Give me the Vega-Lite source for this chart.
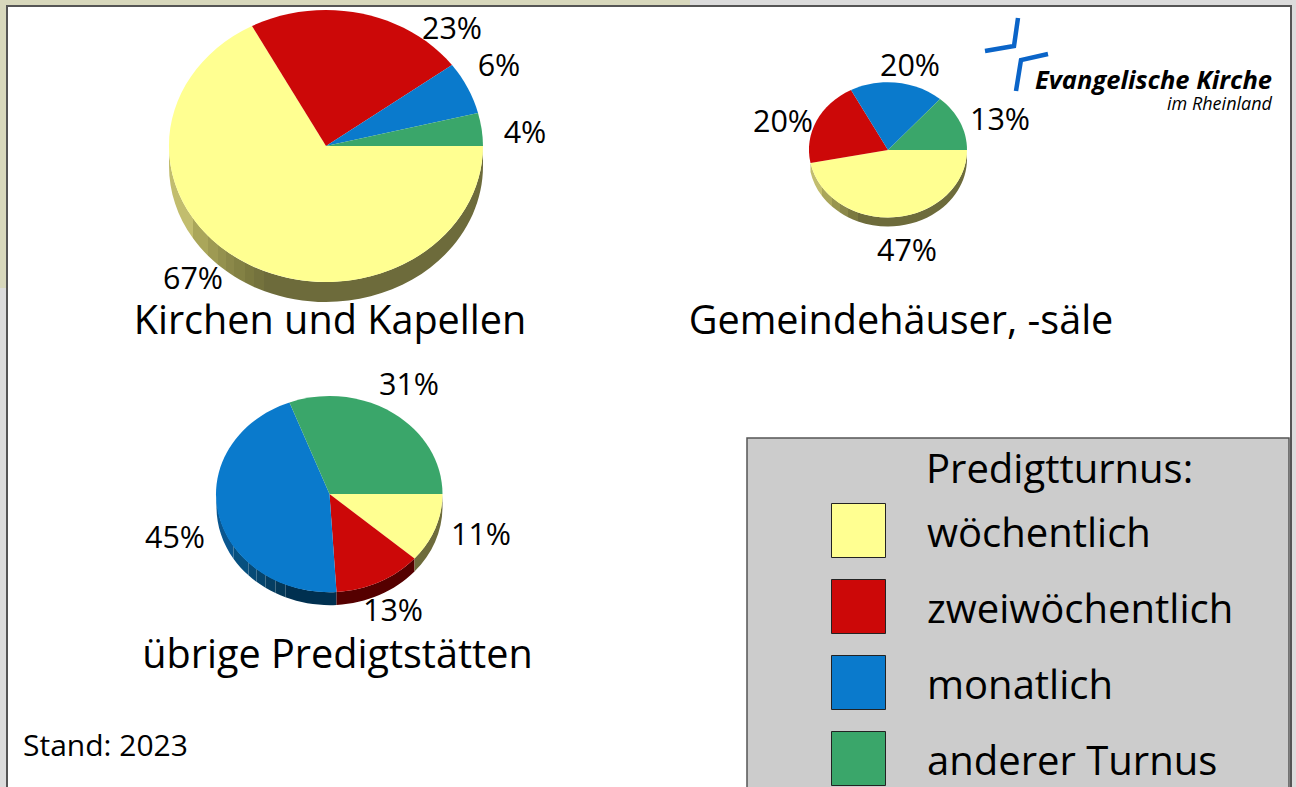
{
"$schema":"https://vega.github.io/schema/vega-lite/v6.json",
"width":1296,"height":787,"padding":0,
"autosize":{"type":"fit","contains":"padding"},
"background":"#dcdcdc",
"view":{"stroke":null},
"config":{"text":{"font":"Open Sans","color":"#000000"}},
"datasets":{
"slices":[
{"pie":"Kirchen und Kapellen","category":"wöchentlich","share":67,"slice":"K-w","cx":326,"cy":146},
{"pie":"Kirchen und Kapellen","category":"zweiwöchentlich","share":23,"slice":"K-z","cx":326,"cy":146},
{"pie":"Kirchen und Kapellen","category":"monatlich","share":6,"slice":"K-m","cx":326,"cy":146},
{"pie":"Kirchen und Kapellen","category":"anderer Turnus","share":4,"slice":"K-a","cx":326,"cy":146},
{"pie":"Gemeindehäuser, -säle","category":"wöchentlich","share":47,"slice":"G-w","cx":888,"cy":150},
{"pie":"Gemeindehäuser, -säle","category":"zweiwöchentlich","share":20,"slice":"G-z","cx":888,"cy":150},
{"pie":"Gemeindehäuser, -säle","category":"monatlich","share":20,"slice":"G-m","cx":888,"cy":150},
{"pie":"Gemeindehäuser, -säle","category":"anderer Turnus","share":13,"slice":"G-a","cx":888,"cy":150},
{"pie":"übrige Predigtstätten","category":"wöchentlich","share":11,"slice":"U-w","cx":329.5,"cy":494},
{"pie":"übrige Predigtstätten","category":"zweiwöchentlich","share":13,"slice":"U-z","cx":329.5,"cy":494},
{"pie":"übrige Predigtstätten","category":"monatlich","share":45,"slice":"U-m","cx":329.5,"cy":494},
{"pie":"übrige Predigtstätten","category":"anderer Turnus","share":31,"slice":"U-a","cx":329.5,"cy":494}
],
"walls":[
{"wall":"K1","cx":326,"cy":146},{"wall":"K2","cx":326,"cy":146},{"wall":"K3","cx":326,"cy":146},{"wall":"K4","cx":326,"cy":146},{"wall":"K5","cx":326,"cy":146},{"wall":"K6","cx":326,"cy":146},{"wall":"K7","cx":326,"cy":146},{"wall":"K8","cx":326,"cy":146},{"wall":"K9","cx":326,"cy":146},
{"wall":"G1","cx":888,"cy":150},{"wall":"G2","cx":888,"cy":150},{"wall":"G3","cx":888,"cy":150},{"wall":"G4","cx":888,"cy":150},{"wall":"G5","cx":888,"cy":150},{"wall":"G6","cx":888,"cy":150},
{"wall":"U1","cx":329.5,"cy":494},{"wall":"U2","cx":329.5,"cy":494},{"wall":"U3","cx":329.5,"cy":494},{"wall":"U4","cx":329.5,"cy":494},{"wall":"U5","cx":329.5,"cy":494},{"wall":"U6","cx":329.5,"cy":494},{"wall":"U7","cx":329.5,"cy":494},{"wall":"U8","cx":329.5,"cy":494},{"wall":"U9","cx":329.5,"cy":494}
]
},
"layer":[
{"data":{"values":[{"x":0,"x2":690,"y":0,"y2":288}]},
 "mark":{"type":"rect","fill":"#d8d8bc"},
 "encoding":{"x":{"field":"x","type":"quantitative","scale":{"domain":[0,1296],"nice":false,"zero":false},"axis":null},"x2":{"field":"x2"},"y":{"field":"y","type":"quantitative","scale":{"domain":[787,0],"nice":false,"zero":false},"axis":null},"y2":{"field":"y2"}}},
{"data":{"values":[{"x":7,"x2":1291,"y":6,"y2":800}]},
 "mark":{"type":"rect","fill":"#ffffff","stroke":"#555555","strokeWidth":2,"clip":true},
 "encoding":{"x":{"field":"x","type":"quantitative"},"x2":{"field":"x2"},"y":{"field":"y","type":"quantitative"},"y2":{"field":"y2"}}},
{"data":{"values":[{"x":747,"x2":1289,"y":438,"y2":800}]},
 "mark":{"type":"rect","fill":"#cccccc","stroke":"#555555","strokeWidth":1.5,"clip":true},
 "encoding":{"x":{"field":"x","type":"quantitative"},"x2":{"field":"x2"},"y":{"field":"y","type":"quantitative"},"y2":{"field":"y2"}}},
{"data":{"name":"walls"},
 "mark":{"type":"point","filled":true,"size":4,"opacity":1,"strokeWidth":0},
 "encoding":{"x":{"field":"cx","type":"quantitative"},"y":{"field":"cy","type":"quantitative"},
  "fill":{"field":"wall","type":"nominal","legend":null,"scale":{
   "domain":["K1","K2","K3","K4","K5","K6","K7","K8","K9","G1","G2","G3","G4","G5","G6","U1","U2","U3","U4","U5","U6","U7","U8","U9"],
   "range":["#c2bd6e","#aaa65a","#9e9a53","#94914e","#8b8849","#838144","#7b793f","#74723d","#6d6b3b","#c2bd6e","#aaa65a","#98954f","#8a8749","#7b793f","#6d6b3b","#0a5790","#07507f","#064a76","#05446c","#053e62","#043858","#003050","#550000","#6d6b3b"]}},
  "shape":{"field":"wall","type":"nominal","legend":null,"scale":{
   "domain":["K1","K2","K3","K4","K5","K6","K7","K8","K9","G1","G2","G3","G4","G5","G6","U1","U2","U3","U4","U5","U6","U7","U8","U9"],
   "range":[
   "M-157,0A157,136 0 0 0 -133,72.3L-133,92.3A157,136 0 0 1 -157,20Z",
   "M-133,72.3A157,136 0 0 0 -118,89.7L-118,109.7A157,136 0 0 1 -133,92.3Z",
   "M-118,89.7A157,136 0 0 0 -108,98.7L-108,118.7A157,136 0 0 1 -118,109.7Z",
   "M-108,98.7A157,136 0 0 0 -100,104.8L-100,124.8A157,136 0 0 1 -108,118.7Z",
   "M-100,104.8A157,136 0 0 0 -92,110.2L-92,130.2A157,136 0 0 1 -100,124.8Z",
   "M-92,110.2A157,136 0 0 0 -81,116.5L-81,136.5A157,136 0 0 1 -92,130.2Z",
   "M-81,116.5A157,136 0 0 0 -72,120.9L-72,140.9A157,136 0 0 1 -81,136.5Z",
   "M-72,120.9A157,136 0 0 0 -62,124.9L-62,144.9A157,136 0 0 1 -72,140.9Z",
   "M-62,124.9A157,136 0 0 0 157,0L157,20A157,136 0 0 1 -62,144.9Z",
   "M-77.5,13A79,67.5 0 0 0 -66,37.1L-66,46.1A79,67.5 0 0 1 -77.5,22Z",
   "M-66,37.1A79,67.5 0 0 0 -56,47.6L-56,56.6A79,67.5 0 0 1 -66,46.1Z",
   "M-56,47.6A79,67.5 0 0 0 -48,53.6L-48,62.6A79,67.5 0 0 1 -56,56.6Z",
   "M-48,53.6A79,67.5 0 0 0 -40,58.2L-40,67.2A79,67.5 0 0 1 -48,62.6Z",
   "M-40,58.2A79,67.5 0 0 0 -30,62.4L-30,71.4A79,67.5 0 0 1 -40,67.2Z",
   "M-30,62.4A79,67.5 0 0 0 79,0L79,9A79,67.5 0 0 1 -30,71.4Z",
   "M-113,0A113,98 0 0 0 -96,51.7L-96,64.7A113,98 0 0 1 -113,13Z",
   "M-96,51.7A113,98 0 0 0 -81,68.3L-81,81.3A113,98 0 0 1 -96,64.7Z",
   "M-81,68.3A113,98 0 0 0 -73,74.8L-73,87.8A113,98 0 0 1 -81,81.3Z",
   "M-73,74.8A113,98 0 0 0 -64,80.8L-64,93.8A113,98 0 0 1 -73,87.8Z",
   "M-64,80.8A113,98 0 0 0 -54,86.1L-54,99.1A113,98 0 0 1 -64,93.8Z",
   "M-54,86.1A113,98 0 0 0 -44,90.3L-44,103.3A113,98 0 0 1 -54,99.1Z",
   "M-44,90.3A113,98 0 0 0 7,98L7,111A113,98 0 0 1 -44,103.3Z",
   "M7,98A113,98 0 0 0 85,64.6L85,77.6A113,98 0 0 1 7,111Z",
   "M85,64.6A113,98 0 0 0 113,0L113,13A113,98 0 0 1 85,77.6Z"
   ]}}}},
{"data":{"name":"slices"},
 "mark":{"type":"point","filled":true,"size":4,"opacity":1,"strokeWidth":0},
 "encoding":{"x":{"field":"cx","type":"quantitative"},"y":{"field":"cy","type":"quantitative"},
  "color":{"field":"category","type":"nominal","scale":{"domain":["wöchentlich","zweiwöchentlich","monatlich","anderer Turnus"],"range":["#ffff91","#cc0808","#0a7acc","#3aa66a"]},
   "legend":{"orient":"none","legendX":831,"legendY":503,"title":null,"symbolType":"square","symbolSize":2916,"symbolStrokeColor":"#222222","symbolStrokeWidth":1,"symbolOpacity":1,"labelFont":"Open Sans","labelFontSize":40,"labelColor":"#000000","labelOffset":41,"rowPadding":17,"padding":0,"labelLimit":400,"encoding":{"labels":{"dy":{"value":4}}}}},
  "shape":{"field":"slice","type":"nominal","legend":null,"scale":{
   "domain":["K-w","K-z","K-m","K-a","G-w","G-z","G-m","G-a","U-w","U-z","U-m","U-a"],
   "range":[
   "M0,0L-74,-120A157,136 0 1 0 157,0Z",
   "M0,0L126,-81A157,136 0 0 0 -74,-120Z",
   "M0,0L152,-33A157,136 0 0 0 126,-81Z",
   "M0,0L157,0A157,136 0 0 0 152,-33Z",
   "M0,0L-77.5,13A79,67.5 0 0 0 79,0Z",
   "M0,0L-37,-60A79,67.5 0 0 0 -77.5,13Z",
   "M0,0L52,-51A79,67.5 0 0 0 -37,-60Z",
   "M0,0L79,0A79,67.5 0 0 0 52,-51Z",
   "M0,0L85,64.6A113,98 0 0 0 113,0Z",
   "M0,0L7,98A113,98 0 0 0 85,64.6Z",
   "M0,0L-40,-91.6A113,98 0 0 0 7,98Z",
   "M0,0L113,0A113,98 0 0 0 -40,-91.6Z"
   ]}}}},
{"data":{"values":[
 {"s":"a","o":1,"x":1018,"y":18},{"s":"a","o":2,"x":1014,"y":46},{"s":"a","o":3,"x":985,"y":51},
 {"s":"b","o":1,"x":1048,"y":54},{"s":"b","o":2,"x":1021,"y":60},{"s":"b","o":3,"x":1016,"y":91}]},
 "mark":{"type":"line","color":"#0a64c8","strokeWidth":4.5,"strokeCap":"butt","strokeJoin":"miter"},
 "encoding":{"x":{"field":"x","type":"quantitative"},"y":{"field":"y","type":"quantitative"},"detail":{"field":"s"},"order":{"field":"o","type":"ordinal"}}},
{"data":{"values":[
 {"t":"23%","x":452,"y":30},{"t":"6%","x":499,"y":67},{"t":"4%","x":525,"y":134},{"t":"67%","x":193,"y":280},
 {"t":"20%","x":910,"y":67},{"t":"20%","x":783,"y":123},{"t":"13%","x":1000,"y":121},{"t":"47%","x":907,"y":252},
 {"t":"31%","x":409,"y":386},{"t":"11%","x":481,"y":536},{"t":"45%","x":175,"y":539},{"t":"13%","x":393,"y":612}]},
 "mark":{"type":"text","fontSize":30.5,"align":"center","baseline":"middle"},
 "encoding":{"x":{"field":"x","type":"quantitative"},"y":{"field":"y","type":"quantitative"},"text":{"field":"t"}}},
{"data":{"values":[
 {"t":"Kirchen und Kapellen","x":330,"y":334},{"t":"Gemeindehäuser, -säle","x":901,"y":334},{"t":"übrige Predigtstätten","x":337.5,"y":668}]},
 "mark":{"type":"text","fontSize":39.6,"align":"center","baseline":"alphabetic"},
 "encoding":{"x":{"field":"x","type":"quantitative"},"y":{"field":"y","type":"quantitative"},"text":{"field":"t"}}},
{"data":{"values":[{"t":"Predigtturnus:","x":926,"y":483}]},
 "mark":{"type":"text","fontSize":40,"align":"left","baseline":"alphabetic"},
 "encoding":{"x":{"field":"x","type":"quantitative"},"y":{"field":"y","type":"quantitative"},"text":{"field":"t"}}},
{"data":{"values":[{"t":"Stand: 2023","x":23,"y":756}]},
 "mark":{"type":"text","fontSize":30,"align":"left","baseline":"alphabetic"},
 "encoding":{"x":{"field":"x","type":"quantitative"},"y":{"field":"y","type":"quantitative"},"text":{"field":"t"}}},
{"data":{"values":[{"t":"Evangelische Kirche","x":1272,"y":89}]},
 "mark":{"type":"text","fontSize":25.5,"fontWeight":"bold","fontStyle":"italic","align":"right","baseline":"alphabetic"},
 "encoding":{"x":{"field":"x","type":"quantitative"},"y":{"field":"y","type":"quantitative"},"text":{"field":"t"}}},
{"data":{"values":[{"t":"im Rheinland","x":1272,"y":110}]},
 "mark":{"type":"text","fontSize":18,"fontStyle":"italic","align":"right","baseline":"alphabetic"},
 "encoding":{"x":{"field":"x","type":"quantitative"},"y":{"field":"y","type":"quantitative"},"text":{"field":"t"}}}
],
"resolve":{"scale":{"shape":"independent"}}
}
